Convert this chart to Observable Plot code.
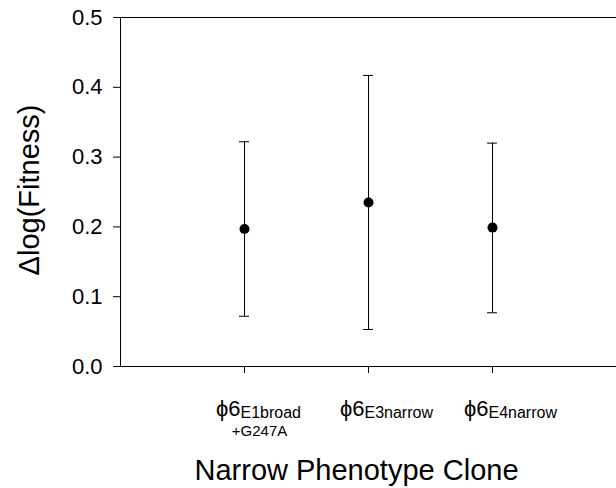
<!DOCTYPE html>
<html>
<head>
<meta charset="utf-8">
<script src="https://cdn.jsdelivr.net/npm/d3@7"></script>
<script src="https://cdn.jsdelivr.net/npm/@observablehq/plot@0.6"></script>
<style>
  html, body { margin: 0; padding: 0; background: #fff; }
</style>
</head>
<body>
<div id="chart"></div>
<script>
// Data
const clones = ["E1broad", "E3narrow", "E4narrow"];
const means  = [0.197, 0.235, 0.199];
const lowers = [0.072, 0.053, 0.077];
const uppers = [0.322, 0.417, 0.320];
const tickMain = ["ϕ6", "ϕ6", "ϕ6"];
const tickSub  = ["E1broad", "E3narrow", "E4narrow"];
const tickNote = ["+G247A", "", ""];
const yTicks = [0, 0.1, 0.2, 0.3, 0.4, 0.5];
const yLabel = "Δlog(Fitness)";
const xLabel = "Narrow Phenotype Clone";

const data = clones.map((c, i) => ({
  clone: c, mean: means[i], lower: lowers[i], upper: uppers[i],
  main: tickMain[i], sub: tickSub[i], note: tickNote[i]
}));

const font = "'Liberation Sans', Arial, Helvetica, sans-serif";

const chart = Plot.plot({
  width: 616,
  height: 488,
  marginLeft: 120,
  marginRight: 0,
  marginTop: 17,
  marginBottom: 122,
  style: { fontFamily: font, fontSize: "22px", color: "black", background: "white", overflow: "visible" },
  x: { type: "point", domain: clones, padding: 1 },
  y: { domain: [0, 0.5] },
  marks: [
    Plot.frame({ anchor: "left", stroke: "black" }),
    Plot.axisY({ ticks: yTicks, tickFormat: d3.format(".1f"), tickSize: 7, tickPadding: 11, label: null, fontSize: 22, stroke: "black" }),
    Plot.axisX({ tickSize: 7, tickFormat: () => "", label: null, stroke: "black" }),
    Plot.ruleY([0, 0.5], { stroke: "black", strokeWidth: 1 }),
    Plot.ruleX(data, { x: "clone", y1: "lower", y2: "upper", stroke: "black", strokeWidth: 1 }),
    Plot.ruleY(data, { x1: "clone", x2: "clone", y: "upper", insetLeft: -5, insetRight: -5, stroke: "black" }),
    Plot.ruleY(data, { x1: "clone", x2: "clone", y: "lower", insetLeft: -5, insetRight: -5, stroke: "black" }),
    Plot.dot(data, { x: "clone", y: "mean", r: 5, fill: "black", stroke: null }),
    // x tick labels with subscripts
    Plot.text(data, { x: "clone", frameAnchor: "bottom", text: "main", textAnchor: "end", lineAnchor: "bottom", dx: -4, dy: 49, fontSize: 22, fill: "black" }),
    Plot.text(data, { x: "clone", frameAnchor: "bottom", text: "sub", textAnchor: "start", lineAnchor: "bottom", dx: -4, dy: 51, fontSize: 16, fill: "black" }),
    Plot.text(data, { x: "clone", frameAnchor: "bottom", text: "note", textAnchor: "middle", lineAnchor: "bottom", dx: 15, dy: 69, fontSize: 15, fill: "black" }),
    // axis titles
    Plot.text([yLabel], { frameAnchor: "left", text: d => d, rotate: -90, lineAnchor: "middle", textAnchor: "middle", dx: -91, dy: -2, fontSize: 29, fill: "black" }),
    Plot.text([xLabel], { frameAnchor: "bottom", text: d => d, lineAnchor: "bottom", textAnchor: "middle", dx: -12, dy: 113, fontSize: 29, fill: "black" })
  ]
});

document.getElementById("chart").appendChild(chart);
</script>
</body>
</html>
